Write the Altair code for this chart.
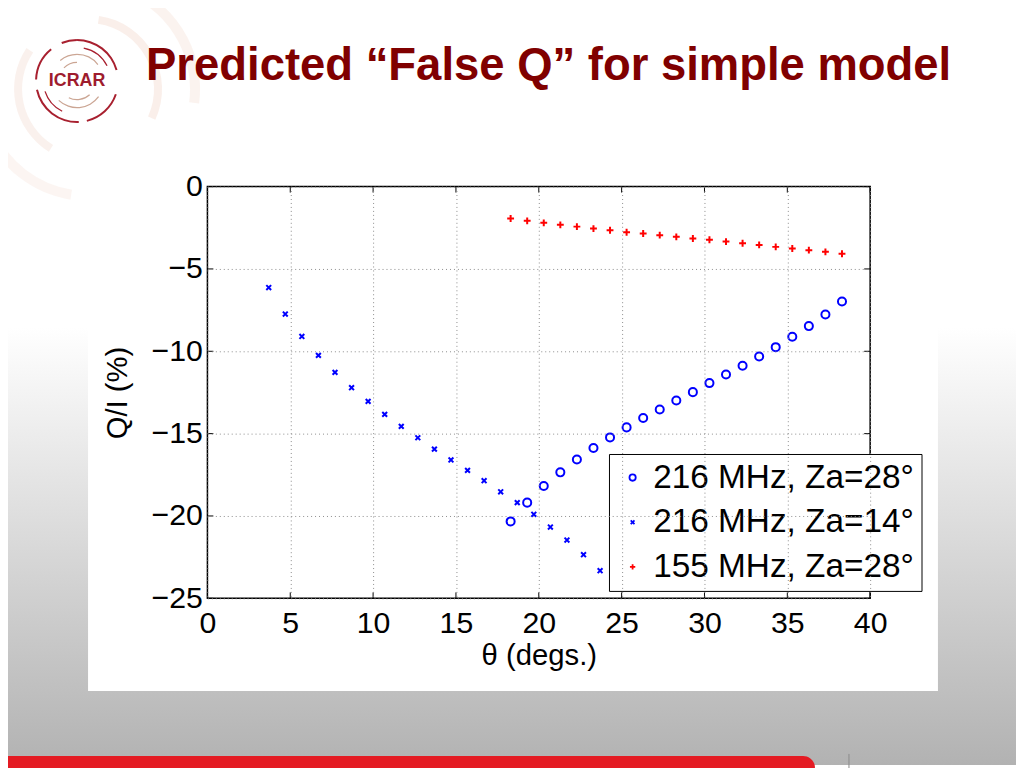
import altair as alt
import pandas as pd

# theta (degs) and Q/I (%)
theta_za14 = [3.7, 4.7, 5.7, 6.7, 7.7, 8.7, 9.7, 10.7, 11.7, 12.7, 13.7,
              14.7, 15.7, 16.7, 17.7, 18.7, 19.7, 20.7, 21.7, 22.7, 23.7]
q_216_za14 = [-6.13, -7.74, -9.10, -10.25, -11.28, -12.21, -13.04, -13.83, -14.56, -15.25, -15.94,
              -16.60, -17.23, -17.86, -18.53, -19.19, -19.90, -20.67, -21.46, -22.35, -23.32]

theta_za28 = [18.3, 19.3, 20.3, 21.3, 22.3, 23.3, 24.3, 25.3, 26.3, 27.3, 28.3,
              29.3, 30.3, 31.3, 32.3, 33.3, 34.3, 35.3, 36.3, 37.3, 38.3]
q_216_za28 = [-20.33, -19.19, -18.18, -17.35, -16.57, -15.87, -15.23, -14.62, -14.05, -13.53, -12.99,
              -12.48, -11.93, -11.41, -10.88, -10.32, -9.75, -9.12, -8.47, -7.77, -6.98]
q_155_za28 = [-1.94, -2.08, -2.20, -2.32, -2.43, -2.55, -2.65, -2.77, -2.85, -2.95, -3.05,
              -3.15, -3.23, -3.34, -3.44, -3.54, -3.66, -3.76, -3.86, -3.96, -4.08]

series_names = ["216 MHz, Za=28°", "216 MHz, Za=14°", "155 MHz, Za=28°"]
series_colors = ["#0000ff", "#0000ff", "#ff0000"]
series_shapes = ["circle", "M-0.6,-0.6L0.6,0.6M-0.6,0.6L0.6,-0.6", "M-0.85,0L0.85,0M0,-0.85L0,0.85"]

x_ticks = [0, 5, 10, 15, 20, 25, 30, 35, 40]
y_ticks = [0, -5, -10, -15, -20, -25]

df = pd.concat([
    pd.DataFrame({"theta": theta_za28, "q": q_216_za28, "series": series_names[0]}),
    pd.DataFrame({"theta": theta_za14, "q": q_216_za14, "series": series_names[1]}),
    pd.DataFrame({"theta": theta_za28, "q": q_155_za28, "series": series_names[2]}),
])
one = pd.DataFrame({"k": [0]})

# the 1032px-wide page ends up shown 1024px wide, so place things on that scale
S = 1024 / 1032
PADL, PADT = 201, 177
W, H = 668, 415
FONT = "Liberation Sans"


def rx(t):
    return t / S - 8 - PADL


def ry(t):
    return (t - 2) / S - 8 - PADT


x_scale = alt.Scale(domain=[0, 40], nice=False, zero=False)
y_scale = alt.Scale(domain=[-25, 0], nice=False, zero=False)
x_axis = alt.Axis(title="θ (degs.)", values=x_ticks, grid=True, gridDash=[1, 3], gridColor="#8c8c8c",
                  ticks=False, domain=False, labelFont=FONT, labelFontSize=30.5, labelColor="black",
                  labelPadding=10, labelFlush=False, titleFont=FONT, titleFontSize=29.5,
                  titleFontWeight="normal", titleColor="black", titlePadding=3, zindex=1)
y_axis = alt.Axis(title="Q/I (%)", values=y_ticks, grid=True, gridDash=[1, 3], gridColor="#8c8c8c",
                  ticks=False, domain=False, labelFont=FONT, labelFontSize=30.5, labelColor="black",
                  labelPadding=5, labelFlush=False, titleFont=FONT, titleFontSize=29.5,
                  titleFontWeight="normal", titleColor="black", titlePadding=19, zindex=1)
X = lambda f: alt.X(f, type="quantitative", scale=x_scale, axis=x_axis)
Y = lambda f: alt.Y(f, type="quantitative", scale=y_scale, axis=y_axis)


def arc(cx, cy, r0, r1, t0, t1, color, opacity=1.0):
    return alt.Chart(one).mark_arc(radius=r1 / S, radius2=r0 / S, theta=t0, theta2=t1,
                                   color=color, opacity=opacity).encode(
        x=alt.value(rx(cx)), y=alt.value(ry(cy)))


# slide background
slide = alt.Chart(one).mark_rect(color=alt.LinearGradient(
    gradient="linear", x1=0, x2=0, y1=0, y2=1,
    stops=[alt.GradientStop(offset=0, color="#ffffff"),
           alt.GradientStop(offset=0.42, color="#ffffff"),
           alt.GradientStop(offset=1, color="#b2b2b2")])).encode(
    x=alt.value(-PADL), x2=alt.value(1016 - PADL), y=alt.value(-PADT), y2=alt.value(760 - PADT))

# faint watermark rings and the logo
wm = "#f2d8ca"
watermark = [
    arc(88, 88, 66, 74, 0.15, 2.0, wm, 0.4),
    arc(88, 88, 66, 74, 3.7, 5.3, wm, 0.35),
    arc(88, 88, 102, 112, 0.3, 1.7, wm, 0.3),
    arc(88, 88, 102, 112, 3.3, 4.3, wm, 0.25),
]
red_ring = "#a8202f"
tan_ring = "#cba593"
logo = [
    arc(77, 80, 40, 42, 5.9, 6.28, red_ring), arc(77, 80, 40, 42, 0.0, 1.3, red_ring),
    arc(77, 80, 40, 42, 1.9, 2.9, red_ring), arc(77, 80, 40, 42, 3.1, 4.5, red_ring),
    arc(77, 80, 40, 42, 4.75, 5.6, red_ring),
    arc(77, 80, 33, 34.3, 0.2, 1.1, red_ring), arc(77, 80, 33, 34.3, 3.6, 4.4, red_ring),
    arc(77, 80, 26, 27.2, 5.6, 6.28, tan_ring), arc(77, 80, 26, 27.2, 0.0, 0.9, tan_ring),
    arc(77, 80, 26, 27.2, 2.2, 3.9, tan_ring),
    arc(77, 80, 18, 19.2, 5.5, 6.28, tan_ring), arc(77, 80, 18, 19.2, 2.4, 3.6, tan_ring),
]
logo_text = alt.Chart(one).mark_text(text="ICRAR", font=FONT, fontSize=18, fontWeight="bold",
                                     color="#9e1c2e", align="center", baseline="middle").encode(
    x=alt.value(rx(77)), y=alt.value(ry(80)))

title = alt.Chart(one).mark_text(text="Predicted “False Q” for simple model", font=FONT,
                                 fontSize=45.8, fontWeight="bold", color="#800000",
                                 align="left", baseline="alphabetic").encode(
    x=alt.value(rx(146)), y=alt.value(ry(79)))

# white figure image
figure = alt.Chart(one).mark_rect(color="white").encode(
    x=alt.value(rx(88)), x2=alt.value(rx(938)), y=alt.value(ry(155)), y2=alt.value(ry(690)))

# bottom red bar
bar = alt.Chart(one).mark_rect(color="#e41b23", cornerRadiusTopRight=12).encode(
    x=alt.value(-PADL), x2=alt.value(rx(815)), y=alt.value(ry(755)), y2=alt.value(ry(790)))
divider = alt.Chart(one).mark_rule(color="#8a8a8a", strokeWidth=1).encode(
    x=alt.value(rx(849)), y=alt.value(ry(753)), y2=alt.value(ry(790)))

# inward ticks on all four sides
xt = pd.DataFrame({"v": x_ticks})
yt = pd.DataFrame({"v": y_ticks})
ticks = [
    alt.Chart(xt).mark_rule(color="black").encode(x=X("v"), y=alt.value(H), y2=alt.value(H - 6)),
    alt.Chart(xt).mark_rule(color="black").encode(x=X("v"), y=alt.value(0), y2=alt.value(6)),
    alt.Chart(yt).mark_rule(color="black").encode(y=Y("v"), x=alt.value(0), x2=alt.value(6)),
    alt.Chart(yt).mark_rule(color="black").encode(y=Y("v"), x=alt.value(W), x2=alt.value(W - 6)),
]

frame = alt.Chart(one).mark_rect(fillOpacity=0, stroke="black", strokeWidth=1.5).encode(
    x=alt.value(0), x2=alt.value(W), y=alt.value(0), y2=alt.value(H))

legend = alt.Legend(title=None, orient="none", legendX=rx(609), legendY=ry(453),
                    fillColor="white", strokeColor="black", padding=7,
                    labelFont=FONT, labelFontSize=33.6, labelColor="black", labelLimit=400,
                    symbolSize=40, symbolStrokeWidth=1.8, symbolOffset=0, labelOffset=4,
                    rowPadding=10)

points = alt.Chart(df).mark_point(filled=False, size=66, strokeWidth=2, opacity=1).encode(
    x=X("theta"),
    y=Y("q"),
    color=alt.Color("series:N", scale=alt.Scale(domain=series_names, range=series_colors), legend=legend),
    shape=alt.Shape("series:N", scale=alt.Scale(domain=series_names, range=series_shapes), legend=legend),
)

chart = alt.layer(
    slide, *watermark, *logo, logo_text, title, figure, bar, divider,
    *ticks, points, frame,
).properties(
    width=W, height=H,
    autosize=alt.AutoSizeParams(type="none"),
    padding={"left": PADL, "top": PADT, "right": 1016 - PADL - W, "bottom": 760 - PADT - H},
    background="white",
).configure_legend(
    strokeWidth=1
).configure_view(
    strokeOpacity=0
)

chart.save("out.html", embed_options={"renderer": "svg", "actions": False})
